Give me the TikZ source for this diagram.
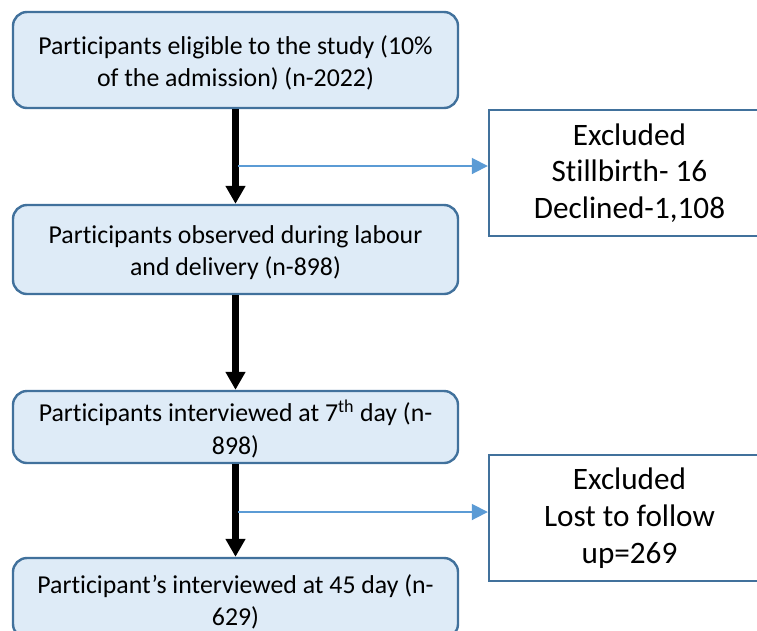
\documentclass[tikz,border=0pt]{standalone}
\usepackage{fontspec}
\setmainfont{Carlito}[Ligatures=NoCommon]
\usetikzlibrary{arrows.meta,positioning}
\definecolor{boxline}{HTML}{41719C}
\definecolor{boxfill}{HTML}{DEEBF7}
\definecolor{bluearrow}{HTML}{5B9BD5}
\begin{document}
\begin{tikzpicture}[x=1pt,y=-1pt,
  flowbox/.style={draw=boxline,fill=boxfill,line width=2.4pt,rounded corners=14pt,
    minimum width=445pt,inner sep=0pt},
  flowtext/.style={align=center,inner sep=0pt,yshift=-3pt,
    font=\fontsize{25.8}{32.5}\selectfont},
  exbox/.style={draw=boxline,fill=white,line width=2.4pt,minimum width=281pt,
    align=center,inner sep=0pt,font=\fontsize{31.2}{36.7}\selectfont},
  mainarrow/.style={line width=6.5pt,-{Triangle[length=18pt,width=19pt]}},
  sidearrow/.style={draw=bluearrow,line width=1.8pt,-{Triangle[length=16pt,width=16pt]},shorten >=0pt}
]
\useasboundingbox (0,0) rectangle (757,630);
\node[flowbox,minimum height=96pt,label={[flowtext]center:{Participants eligible to the study (10\%\\of the admission) (n-2022)}}] (b1) at (235.5,60) {};
\node[flowbox,minimum height=89pt,label={[flowtext]center:{Participants observed during labour\\and delivery (n-898)}}] (b2) at (235.5,249.5) {};
\node[flowbox,minimum height=72pt,label={[flowtext,yshift=1pt]center:{Participants interviewed at 7\textsuperscript{th} day (n-\\898)}}] (b3) at (235.5,427) {};
\node[flowbox,minimum height=80pt,label={[flowtext,yshift=-1pt]center:{Participant’s interviewed at 45 day (n-\\629)}}] (b4) at (235.5,598) {};
\node[exbox,minimum height=126pt] (r1) at (629.5,173) {Excluded\\Stillbirth- 16\\Declined-1,108};
\node[exbox,minimum height=126pt] (r2) at (629.5,518) {Excluded\\Lost to follow\\up=269};
\draw[mainarrow] (b1.south) -- (b2.north);
\draw[mainarrow] (b2.south) -- (b3.north);
\draw[mainarrow] (b3.south) -- (b4.north);
\coordinate (s1) at (238,166);
\coordinate (s2) at (238,512);
\draw[sidearrow] (s1) -- (s1 -| r1.west);
\draw[sidearrow] (s2) -- (s2 -| r2.west);
\end{tikzpicture}
\end{document}
